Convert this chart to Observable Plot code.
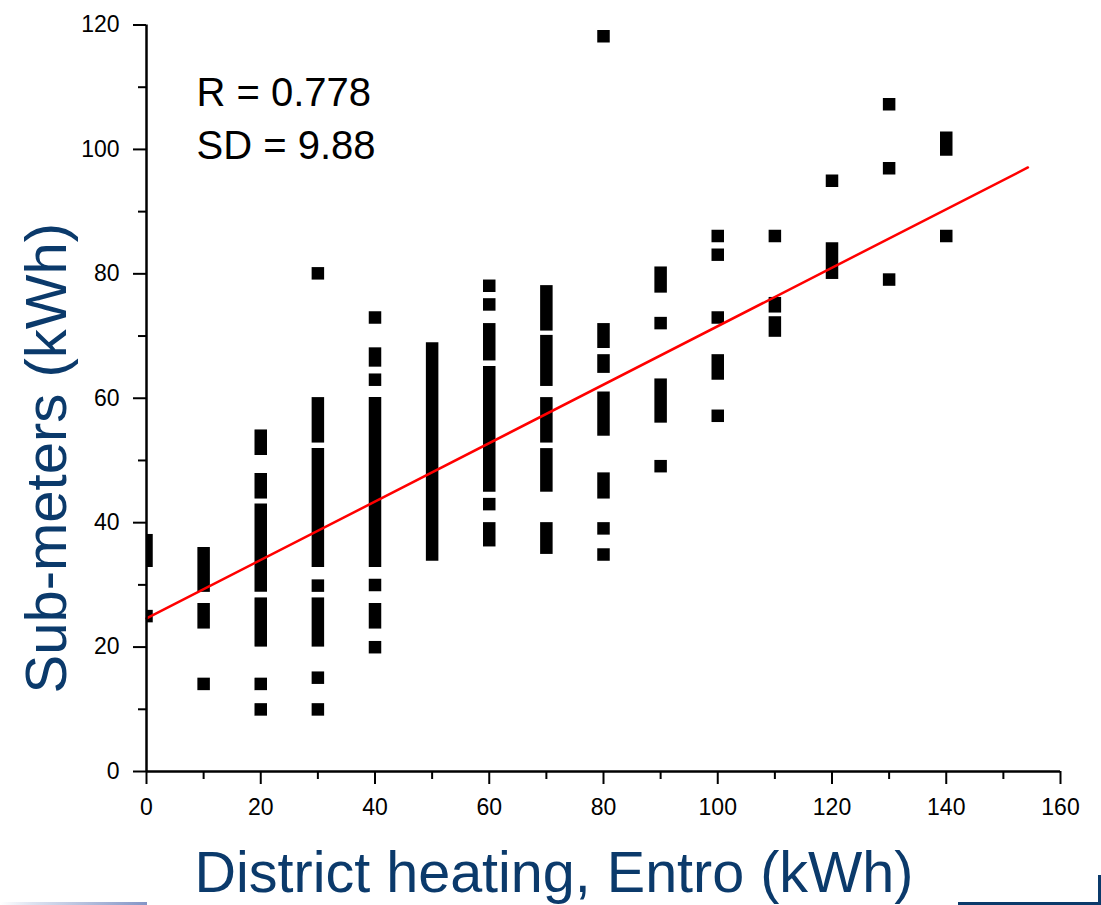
<!DOCTYPE html>
<html>
<head>
<meta charset="utf-8">
<script src="https://cdn.jsdelivr.net/npm/d3@7"></script>
<script src="https://cdn.jsdelivr.net/npm/@observablehq/plot@0.6"></script>
<style>
  html, body { margin: 0; padding: 0; background: #fff; overflow: hidden; width: 1101px; height: 905px; }
  #wrap { position: relative; width: 1101px; height: 905px; }
  .deco { position: absolute; }
</style>
</head>
<body>
<div id="wrap">
  <div id="chart"></div>
  <div class="deco" style="left:0;top:902px;width:147px;height:3px;background:linear-gradient(to right,#ffffff,#dde3f1 22%,#8495c6)"></div>
  <div class="deco" style="left:958px;top:902px;width:143px;height:3px;background:#0b3a6b"></div>
  <div class="deco" style="left:1098px;top:875px;width:3px;height:30px;background:#0b3a6b"></div>
</div>
<script>
// District heating (Entro) readings, kWh — one column per value
const districtHeating = [0, 10, 20, 30, 40, 50, 60, 70, 80, 90, 100, 110, 120, 130, 140];

// Sub-meter readings (kWh) for each column, as runs of overlapping squares [low, high]
const subMeterRuns = [
  [[33.8, 37.1], [24.9, 24.9]],
  [[29.8, 35.0], [23.9, 26.0], [14.0, 14.0]],
  [[51.8, 53.9], [44.8, 46.9], [29.8, 42.0], [21.0, 26.9], [14.0, 14.0], [9.9, 9.9]],
  [[80.0, 80.0], [53.8, 59.1], [33.8, 50.9], [29.8, 29.8], [21.0, 26.9], [15.0, 15.0], [9.9, 9.9]],
  [[72.9, 72.9], [66.0, 67.1], [62.9, 62.9], [33.8, 59.1], [29.9, 29.9], [23.9, 26.0], [19.9, 19.9]],
  [[34.8, 67.9]],
  [[78.0, 78.0], [75.0, 75.0], [67.0, 71.0], [45.9, 64.1], [42.9, 42.9], [37.1, 39.0]],
  [[71.8, 77.1], [62.9, 69.1], [53.8, 59.1], [45.9, 50.9], [35.9, 39.0]],
  [[118.1, 118.1], [69.0, 71.0], [65.0, 66.0], [54.9, 60.0], [44.8, 47.0], [39.0, 39.0], [34.8, 34.8]],
  [[77.9, 80.1], [72.0, 72.0], [57.0, 62.1], [49.0, 49.0]],
  [[86.0, 86.0], [83.0, 83.0], [72.9, 72.9], [63.9, 66.0], [57.1, 57.1]],
  [[86.0, 86.0], [74.7, 75.2], [70.8, 72.1]],
  [[94.9, 94.9], [80.1, 84.0]],
  [[107.2, 107.2], [96.9, 96.9], [79.0, 79.0]],
  [[99.9, 101.8], [86.0, 86.0]]
];

// Linear fit (red line)
const fitX = [0, 154.3];
const fitY = [24.6, 97.1];

// Statistics text
const statsLines = ["R = 0.778", "SD = 9.88"];

// Axis ticks
const xTicks = [0, 20, 40, 60, 80, 100, 120, 140, 160];
const xMinorTicks = [10, 30, 50, 70, 90, 110, 130, 150];
const yTicks = [0, 20, 40, 60, 80, 100, 120];
const yMinorTicks = [10, 30, 50, 70, 90, 110];

const xTitle = "District heating, Entro (kWh)";
const yTitle = "Sub-meters (kWh)";

const runs = districtHeating.flatMap((x, i) => subMeterRuns[i].map(([lo, hi]) => ({x, lo, hi})));
const fit = fitX.map((x, i) => ({x, y: fitY[i]}));

const navy = "#0b3a6b";

const chart = Plot.plot({
  width: 1101,
  height: 905,
  marginLeft: 146,
  marginRight: 41,
  marginTop: 24.5,
  marginBottom: 134,
  style: {fontFamily: "'Liberation Sans', Arial, sans-serif", fontSize: "23px", background: "#fff", color: "#000"},
  x: {domain: [0, 160]},
  y: {domain: [0, 120]},
  marks: [
    Plot.ruleX(runs, {x: "x", y1: "lo", y2: "hi", stroke: "#000", strokeWidth: 12.5, strokeLinecap: "square", clip: true}),
    Plot.line(fit, {x: "x", y: "y", stroke: "#ff0000", strokeWidth: 2.5}),
    Plot.axisX({ticks: xTicks, tickSize: 13, tickPadding: 14, fontSize: 23, strokeWidth: 2, label: null}),
    Plot.axisX({ticks: xMinorTicks, tickSize: 8, tickFormat: () => "", strokeWidth: 2, label: null}),
    Plot.axisY({ticks: yTicks, tickSize: 13, tickPadding: 14, fontSize: 23, strokeWidth: 2, label: null}),
    Plot.axisY({ticks: yMinorTicks, tickSize: 8, tickFormat: () => "", strokeWidth: 2, label: null}),
    Plot.ruleX([0], {stroke: "#000", strokeWidth: 2.5}),
    Plot.ruleY([0], {stroke: "#000", strokeWidth: 2.5}),
    Plot.text([statsLines[0]], {frameAnchor: "top-left", textAnchor: "start", lineAnchor: "middle", dx: 50, dy: 68, fontSize: 40, fill: "#000"}),
    Plot.text([statsLines[1]], {frameAnchor: "top-left", textAnchor: "start", lineAnchor: "middle", dx: 50, dy: 121.5, fontSize: 40, fill: "#000"}),
    Plot.text([xTitle], {frameAnchor: "bottom", textAnchor: "middle", lineAnchor: "middle", dx: -49.5, dy: 102, fontSize: 57.5, fill: navy}),
    Plot.text([yTitle], {frameAnchor: "left", textAnchor: "middle", lineAnchor: "middle", rotate: -90, dx: -99, dy: 60, fontSize: 58, fill: navy})
  ]
});
document.getElementById("chart").appendChild(chart);
</script>
</body>
</html>
